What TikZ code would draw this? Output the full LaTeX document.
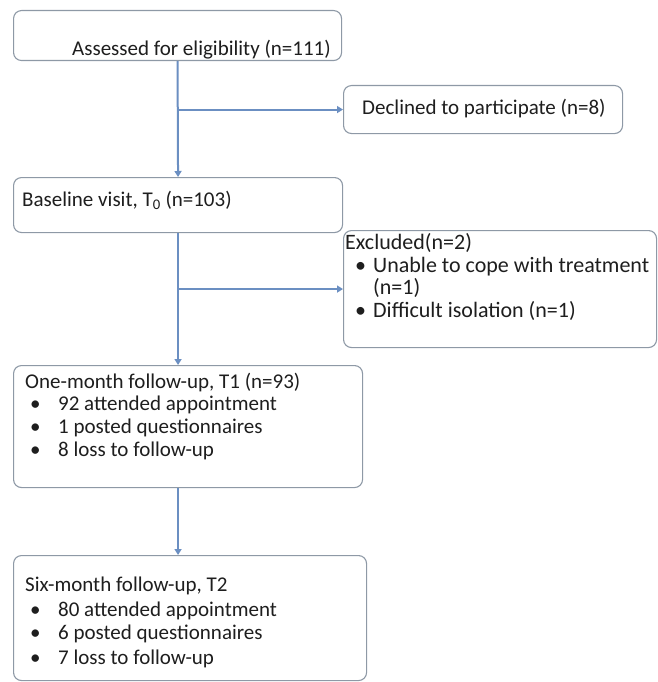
\documentclass[tikz,border=0pt]{standalone}
\usepackage{fontspec}
\setmainfont{Carlito}
\usetikzlibrary{arrows.meta,calc}
\definecolor{boxline}{HTML}{8E99A6}
\definecolor{flow}{HTML}{6B8FC2}
\definecolor{ink}{HTML}{1E1E1E}
\begin{document}
\begin{tikzpicture}[x=1pt,y=-1pt,
  box/.style={draw=boxline, line width=1.1pt, rounded corners=8pt, fill=white,
    inner sep=0pt, anchor=north west},
  txt/.style={anchor=base west, inner sep=0pt, text=ink, font=\fontsize{21}{24}\selectfont},
  txtb/.style={txt, font=\fontsize{22}{24}\selectfont},
  flowline/.style={draw=flow, line width=2pt, -{Triangle[length=6pt,width=7pt]}}]
\useasboundingbox (0,0) rectangle (657,682);

% boxes
\node[box, minimum width=328pt, minimum height=50pt]  (b1)  at (13,10)  {};
\node[box, minimum width=279pt, minimum height=48pt]  (dec) at (343,85) {};
\node[box, minimum width=329pt, minimum height=55pt]  (b2)  at (13,177) {};
\node[box, minimum width=313pt, minimum height=117pt] (exc) at (343,230) {};
\node[box, minimum width=349pt, minimum height=122pt] (b3)  at (13,365) {};
\node[box, minimum width=353pt, minimum height=125pt] (b4)  at (13,555) {};

% texts
\node[txt] (t1) at (72,56) {Assessed for eligibility (n=111)};
\node[txt] (tdec) at (362,115) {Declined to participate (n=8)};
\node[txt] (t2) at (22,206) {Baseline visit, T\textsubscript{0} (n=103)};

\node[txtb] (te0) at (345,249) {Excluded(n=2)};
\node[txtb] (teb1) at (355,272) {•};
\node[txtb] (te1) at (373,272) {Unable to cope with treatment};
\node[txtb] (te2) at (373,294) {(n=1)};
\node[txtb] (teb2) at (355,317) {•};
\node[txtb] (te3) at (373,317) {Difficult isolation (n=1)};

\node[txt] (t30) at (25,388) {One-month follow-up, T1 (n=93)};
\node[txt] (t3b1) at (30,410) {•};
\node[txt] (t31) at (58,410) {92 attended appointment};
\node[txt] (t3b2) at (30,433) {•};
\node[txt] (t32) at (58,433) {1 posted questionnaires};
\node[txt] (t3b3) at (30,456) {•};
\node[txt] (t33) at (58,456) {8 loss to follow-up};

\node[txt] (t40) at (25,591) {Six-month follow-up, T2};
\node[txt] (t4b1) at (30,616) {•};
\node[txt] (t41) at (58,616) {80 attended appointment};
\node[txt] (t4b2) at (30,639) {•};
\node[txt] (t42) at (58,639) {6 posted questionnaires};
\node[txt] (t4b3) at (30,664) {•};
\node[txt] (t43) at (58,664) {7 loss to follow-up};

% connectors
\draw[flowline] (b1.south) -- (b2.north);
\draw[flowline] (b1.south |- dec.west) -- (dec.west);
\draw[flowline] (b2.south) -- (b2.south |- b3.north);
\draw[flowline] (b2.south |- exc.west) -- (exc.west);
\draw[flowline] (b2.south |- b3.south) -- (b2.south |- b4.north);
\end{tikzpicture}
\end{document}
